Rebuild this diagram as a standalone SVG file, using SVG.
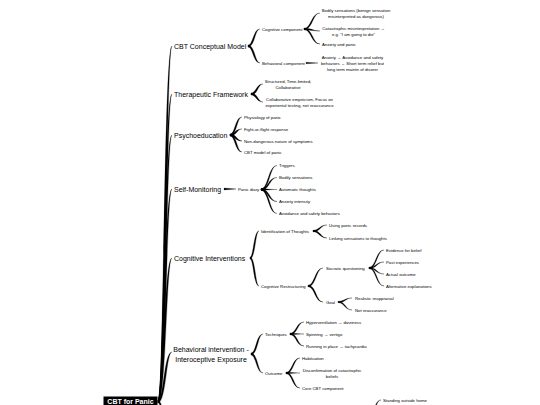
<svg xmlns="http://www.w3.org/2000/svg" width="540" height="405" viewBox="0 0 540 405">
<style>
text{font-family:"Liberation Sans",Arial,sans-serif;fill:#000;dominant-baseline:central}
.l1{font-size:7px}
.s{font-size:4.3px}
.c{text-anchor:middle}
.root{font-size:7px;font-weight:bold;fill:#fff}
.lk path{fill:#000;stroke:#000;stroke-width:0.25;stroke-linejoin:round}
</style>
<rect width="540" height="405" fill="#fff"/>
<g id="connectors" class="lk">
<path d="M158,400.3 C163.8,400.3 163.8,46 172,46 C166.2,46 166.2,402.7 158,402.7Z"/>
<path d="M158,400.3 C163.8,400.3 163.8,94 172,94 C166.2,94 166.2,402.7 158,402.7Z"/>
<path d="M158,400.3 C163.8,400.3 163.8,135 172,135 C166.2,135 166.2,402.7 158,402.7Z"/>
<path d="M158,400.3 C163.8,400.3 163.8,189 172,189 C166.2,189 166.2,402.7 158,402.7Z"/>
<path d="M158,400.3 C163.8,400.3 163.8,258 172,258 C166.2,258 166.2,402.7 158,402.7Z"/>
<path d="M158,400.3 C163.8,400.3 163.8,352 172,352 C166.2,352 166.2,402.7 158,402.7Z"/>
<path d="M158,400.3 C166.2,400.3 166.2,470 172,470 C163.8,470 163.8,402.7 158,402.7Z"/>
<path d="M248,45.1 C253.1,45.1 253.1,29 260,29 C254.9,29 254.9,46.9 248,46.9Z"/>
<path d="M248,45.1 C254.9,45.1 254.9,63 260,63 C253.1,63 253.1,46.9 248,46.9Z"/>
<path d="M304,28.3 C311.3,28.3 311.3,13 320,13 C312.7,13 312.7,29.7 304,29.7Z"/>
<path d="M304,28.3 C312.7,28.3 312.7,31 320,31 C311.3,31 311.3,29.7 304,29.7Z"/>
<path d="M304,28.3 C312.7,28.3 312.7,44 320,44 C311.3,44 311.3,29.7 304,29.7Z"/>
<path d="M306,62.3 L318,63 L306,63.7Z"/>
<path d="M251,93.1 C256.1,93.1 256.1,84 263,84 C257.9,84 257.9,94.9 251,94.9Z"/>
<path d="M251,93.1 C257.9,93.1 257.9,102 263,102 C256.1,102 256.1,94.9 251,94.9Z"/>
<path d="M230,134.1 C235.1,134.1 235.1,117 242,117 C236.9,117 236.9,135.9 230,135.9Z"/>
<path d="M230,134.1 C235.1,134.1 235.1,129 242,129 C236.9,129 236.9,135.9 230,135.9Z"/>
<path d="M230,134.1 C236.9,134.1 236.9,141 242,141 C235.1,141 235.1,135.9 230,135.9Z"/>
<path d="M230,134.1 C236.9,134.1 236.9,152 242,152 C235.1,152 235.1,135.9 230,135.9Z"/>
<path d="M224,188.1 L236,189 L224,189.9Z"/>
<path d="M261,188.8 C268.3,188.8 268.3,165.5 277,165.5 C269.7,165.5 269.7,190.2 261,190.2Z"/>
<path d="M261,188.8 C268.3,188.8 268.3,177.5 277,177.5 C269.7,177.5 269.7,190.2 261,190.2Z"/>
<path d="M261,188.8 C269,188.8 269,189.5 277,189.5 C269,189.5 269,190.2 261,190.2Z"/>
<path d="M261,188.8 C269.7,188.8 269.7,201.5 277,201.5 C268.3,201.5 268.3,190.2 261,190.2Z"/>
<path d="M261,188.8 C269.7,188.8 269.7,213.5 277,213.5 C268.3,213.5 268.3,190.2 261,190.2Z"/>
<path d="M250,257.1 C253.6,257.1 253.6,231 259,231 C255.4,231 255.4,258.9 250,258.9Z"/>
<path d="M250,257.1 C255.4,257.1 255.4,286 259,286 C253.6,286 253.6,258.9 250,258.9Z"/>
<path d="M313,230.3 C319.3,230.3 319.3,225 327,225 C320.7,225 320.7,231.7 313,231.7Z"/>
<path d="M313,230.3 C320.7,230.3 320.7,238 327,238 C319.3,238 319.3,231.7 313,231.7Z"/>
<path d="M308,285.3 C314.8,285.3 314.8,268 323,268 C316.2,268 316.2,286.7 308,286.7Z"/>
<path d="M308,285.3 C316.2,285.3 316.2,302 323,302 C314.8,302 314.8,286.7 308,286.7Z"/>
<path d="M369,267.4 C375.9,267.4 375.9,250 384,250 C377.1,250 377.1,268.6 369,268.6Z"/>
<path d="M369,267.4 C375.9,267.4 375.9,262 384,262 C377.1,262 377.1,268.6 369,268.6Z"/>
<path d="M369,267.4 C377.1,267.4 377.1,274 384,274 C375.9,274 375.9,268.6 369,268.6Z"/>
<path d="M369,267.4 C377.1,267.4 377.1,286 384,286 C375.9,286 375.9,268.6 369,268.6Z"/>
<path d="M338,301.4 C344.4,301.4 344.4,298 352,298 C345.6,298 345.6,302.6 338,302.6Z"/>
<path d="M338,301.4 C345.6,301.4 345.6,310 352,310 C344.4,310 344.4,302.6 338,302.6Z"/>
<path d="M251,353.1 C256.1,353.1 256.1,334 263,334 C257.9,334 257.9,354.9 251,354.9Z"/>
<path d="M251,353.1 C257.9,353.1 257.9,373 263,373 C256.1,373 256.1,354.9 251,354.9Z"/>
<path d="M290,333.3 C296.3,333.3 296.3,322 304,322 C297.7,322 297.7,334.7 290,334.7Z"/>
<path d="M290,333.3 C297,333.3 297,334 304,334 C297,334 297,334.7 290,334.7Z"/>
<path d="M290,333.3 C297.7,333.3 297.7,346 304,346 C296.3,346 296.3,334.7 290,334.7Z"/>
<path d="M286,372.3 C292.3,372.3 292.3,358 300,358 C293.7,358 293.7,373.7 286,373.7Z"/>
<path d="M286,372.3 C293,372.3 293,373 300,373 C293,373 293,373.7 286,373.7Z"/>
<path d="M286,372.3 C293.7,372.3 293.7,388 300,388 C292.3,388 292.3,373.7 286,373.7Z"/>
<path d="M366,424.3 C372.8,424.3 372.8,400 381,400 C374.2,400 374.2,425.7 366,425.7Z"/>
</g>
<g id="root"><rect x="103.5" y="396.5" width="54" height="9" fill="#000"/><text class="root" x="130.5" y="401" text-anchor="middle">CBT for Panic</text></g>
<g id="n-model"><text class="l1" x="174" y="46">CBT Conceptual Model</text></g>
<g id="n-cognitive-comp"><text class="s" x="262" y="29">Cognitive component</text></g>
<g id="n-bodily"><text class="s c"><tspan x="356" y="10">Bodily sensations (benign sensation</tspan><tspan x="356" y="15.8">misinterpreted as dangerous)</tspan></text></g>
<g id="n-catastrophic"><text class="s c"><tspan x="353.5" y="28">Catastrophic misinterpretation →</tspan><tspan x="353.5" y="33.8">e.g. "I am going to die"</tspan></text></g>
<g id="n-anxiety-panic"><text class="s" x="322" y="44">Anxiety and panic</text></g>
<g id="n-behavioral-comp"><text class="s" x="262" y="63">Behavioral component</text></g>
<g id="n-avoidance"><text class="s c"><tspan x="352.5" y="57">Anxiety → Avoidance and safety</tspan><tspan x="352.5" y="63">behaviors → Short term relief but</tspan><tspan x="352.5" y="69">long term maintn of disorer</tspan></text></g>
<g id="n-framework"><text class="l1" x="174" y="94">Therapeutic Framework</text></g>
<g id="n-structured"><text class="s c"><tspan x="288" y="81">Structured, Time-limited,</tspan><tspan x="288" y="86.8">Collaborative</tspan></text></g>
<g id="n-empiricism"><text class="s c"><tspan x="299.5" y="99">Collaborative empiricism, Focus on</tspan><tspan x="299.5" y="104.8">experiental testing, not reassurance</tspan></text></g>
<g id="n-psychoed"><text class="l1" x="174" y="135">Psychoeducation</text></g>
<g id="n-physiology"><text class="s" x="244" y="117">Physiology of panic</text></g>
<g id="n-fight"><text class="s" x="244" y="129">Fight-or-flight response</text></g>
<g id="n-nondangerous"><text class="s" x="244" y="141">Non-dangerous nature of symptoms</text></g>
<g id="n-cbtmodel"><text class="s" x="244" y="152">CBT model of panic</text></g>
<g id="n-selfmon"><text class="l1" x="174" y="189">Self-Monitoring</text></g>
<g id="n-diary"><text class="s" x="238" y="189.5">Panic diary</text></g>
<g id="n-triggers"><text class="s" x="279" y="165.5">Triggers</text></g>
<g id="n-bodily2"><text class="s" x="279" y="177.5">Bodily sensations</text></g>
<g id="n-auto"><text class="s" x="279" y="189.5">Automatic thoughts</text></g>
<g id="n-intensity"><text class="s" x="279" y="201.5">Anxiety intensity</text></g>
<g id="n-avoid2"><text class="s" x="279" y="213.5">Avoidance and safety behaviors</text></g>
<g id="n-cogint"><text class="l1" x="174" y="258">Cognitive Interventions</text></g>
<g id="n-ident"><text class="s" x="261" y="231">Identification of Thoughts</text></g>
<g id="n-records"><text class="s" x="329" y="225">Using panic records</text></g>
<g id="n-linking"><text class="s" x="329" y="238">Linking sensations to thoughts</text></g>
<g id="n-restruct"><text class="s" x="261" y="286">Cognitive Restructuring</text></g>
<g id="n-socratic"><text class="s" x="326" y="268">Socratic questioning</text></g>
<g id="n-evidence"><text class="s" x="386" y="250">Evidence for belief</text></g>
<g id="n-past"><text class="s" x="386" y="262">Past experiences</text></g>
<g id="n-actual"><text class="s" x="386" y="274">Actual outcome</text></g>
<g id="n-alt"><text class="s" x="386" y="286">Alternative explanations</text></g>
<g id="n-goal"><text class="s" x="326" y="302">Goal</text></g>
<g id="n-realistic"><text class="s" x="355" y="298">Realistic reappraisal</text></g>
<g id="n-notreass"><text class="s" x="355" y="310">Not reassurance</text></g>
<g id="n-behint"><text class="l1 c"><tspan x="211" y="349">Behavioral intervention -</tspan><tspan x="211" y="358.5">Interoceptive Exposure</tspan></text></g>
<g id="n-techniques"><text class="s" x="265" y="334">Techniques</text></g>
<g id="n-hyper"><text class="s" x="306" y="322">Hyperventilation → dizziness</text></g>
<g id="n-spin"><text class="s" x="306" y="334">Spinning → vertigo</text></g>
<g id="n-running"><text class="s" x="306" y="346">Running in place  → tachycardia</text></g>
<g id="n-outcome"><text class="s" x="265" y="373">Outcome</text></g>
<g id="n-habit"><text class="s" x="302" y="358">Habituation</text></g>
<g id="n-disconf"><text class="s c"><tspan x="332" y="370">Disconfirmation of catastrophic</tspan><tspan x="332" y="375.8">beliefs</tspan></text></g>
<g id="n-core"><text class="s" x="302" y="388">Core CBT component</text></g>
<g id="n-standing"><text class="s" x="383" y="400">Standing outside home</text></g>
</svg>
